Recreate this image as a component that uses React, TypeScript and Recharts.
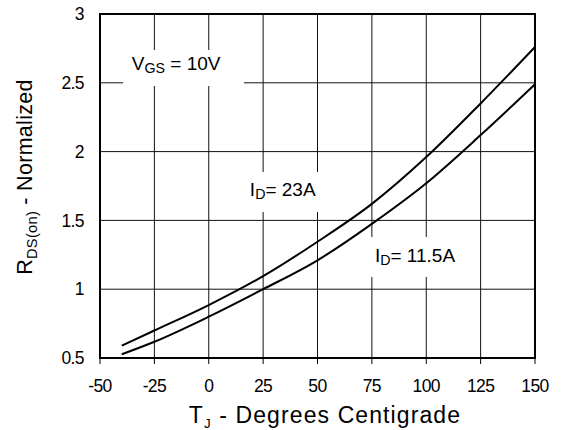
import { LineChart, Line, XAxis, YAxis, CartesianGrid, ReferenceArea } from 'recharts'

const temps = [-40, -25, 0, 25, 50, 75, 100, 125, 150]
const id23A = [0.59, 0.7, 0.885, 1.095, 1.345, 1.62, 1.96, 2.35, 2.76]
const id115A = [0.527, 0.618, 0.8, 1.0, 1.21, 1.475, 1.77, 2.12, 2.49]
const xTicks = [-50, -25, 0, 25, 50, 75, 100, 125, 150]
const yTicks = [0.5, 1, 1.5, 2, 2.5, 3]

const data = temps.map((t, i) => ({ t, a: id23A[i], b: id115A[i] }))

const FONT = '"Liberation Sans", Arial, sans-serif'

// text with a subscript part: main + sub + rest
function SubText(props: any) {
  const { x, y, main, sub, rest, size, subScale = 0.75, shift = 0.15, anchor = 'start', transform, spacing = 0 } = props
  const d = size * shift
  return (
    <text x={x} y={y} fontSize={size} fontFamily={FONT} fill="#000" textAnchor={anchor} transform={transform} letterSpacing={spacing}>
      <tspan>{main}</tspan>
      <tspan dy={d} fontSize={size * subScale}>{sub}</tspan>
      <tspan dy={-d}>{rest}</tspan>
    </text>
  )
}

// label drawn inside a white box that hides the grid behind it
const boxLabel = (main: string, sub: string, rest: string, dx: number, dy: number) => (p: any) => {
  const vb = p.viewBox
  return <SubText x={vb.x + dx} y={vb.y + dy} main={main} sub={sub} rest={rest} size={19} />
}

export default function App() {
  return (
    <div style={{ position: 'absolute', left: 0, top: 0, background: '#fff' }}>
      <LineChart width={567} height={430} data={data} margin={{ top: 14, right: 32, left: 0, bottom: 0 }}>
        <CartesianGrid stroke="#111" strokeWidth={1} />
        <XAxis
          dataKey="t"
          type="number"
          domain={[-50, 150]}
          ticks={xTicks}
          height={72}
          tickSize={6}
          tickMargin={16}
          stroke="#000"
          axisLine={{ stroke: '#000', strokeWidth: 2 }}
          tickLine={{ stroke: '#000', strokeWidth: 1 }}
          tick={{ fill: '#000', fontSize: 17.5, fontFamily: FONT, letterSpacing: -0.6 }}
          label={{
            content: () => (
              <SubText x={325} y={422.5} anchor="middle" main="T" sub="J" rest=" - Degrees Centigrade" size={23} subScale={0.58} shift={0.25} spacing={1.1} />
            ),
          }}
        />
        <YAxis
          type="number"
          domain={[0.5, 3]}
          ticks={yTicks}
          width={100}
          tickSize={0}
          tickMargin={16}
          axisLine={{ stroke: '#000', strokeWidth: 2 }}
          tickLine={false}
          tick={{ fill: '#000', fontSize: 17.5, fontFamily: FONT, letterSpacing: -0.6 }}
          label={{
            content: () => (
              <SubText x={0} y={0} anchor="middle" main="R" sub="DS(on)" rest=" - Normalized" size={21.5} subScale={0.68} shift={0.22} spacing={0.3} transform="translate(32, 177) rotate(-90)" />
            ),
          }}
        />
        <ReferenceArea x1={-50} x2={150} y1={0.5} y2={3} fill="none" stroke="#000" strokeWidth={2} />
        <ReferenceArea x1={-39.4} x2={16.2} y1={2.477} y2={2.738} fill="#fff" fillOpacity={1} stroke="none" label={{ content: boxLabel('V', 'GS', ' = 10V', 8.7, 20) }} />
        <ReferenceArea x1={16.6} x2={54.8} y1={1.561} y2={1.852} fill="#fff" fillOpacity={1} stroke="none" label={{ content: boxLabel('I', 'D', '= 23A', 5, 24) }} />
        <ReferenceArea x1={71.8} x2={120} y1={1.089} y2={1.379} fill="#fff" fillOpacity={1} stroke="none" label={{ content: boxLabel('I', 'D', '= 11.5A', 10, 24.7) }} />
        <Line type="monotone" dataKey="a" stroke="#000" strokeWidth={2} dot={false} isAnimationActive={false} />
        <Line type="monotone" dataKey="b" stroke="#000" strokeWidth={2} dot={false} isAnimationActive={false} />
      </LineChart>
    </div>
  )
}
